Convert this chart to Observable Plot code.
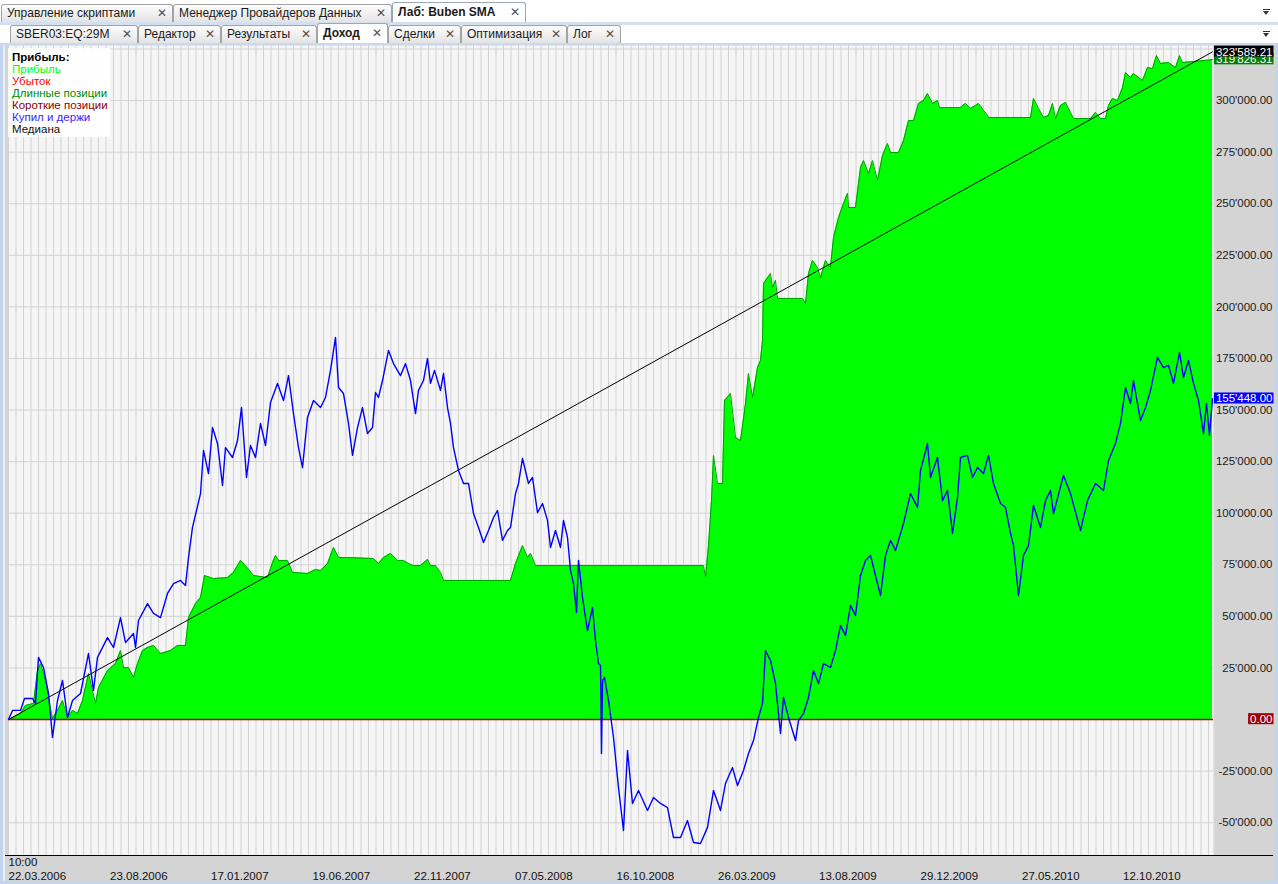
<!DOCTYPE html>
<html><head><meta charset="utf-8">
<script src="https://cdn.jsdelivr.net/npm/d3@7"></script>
<script src="https://cdn.jsdelivr.net/npm/@observablehq/plot@0.6"></script>
<style>
html,body{margin:0;padding:0;background:#fff;width:1278px;height:884px;overflow:hidden;font-family:"Liberation Sans",Arial,sans-serif;position:relative;}
.bar{position:absolute;left:0;width:1278px;background:#fff;}
#bar1{top:0;height:22px;border-bottom:3px solid #d3e0f2;}
#bar2{top:25px;height:18px;border-bottom:2px solid #c9d9ef;}
.tab{position:absolute;bottom:0;height:18px;box-sizing:border-box;border:1px solid #a3a3a3;border-bottom:none;border-radius:3px 3px 0 0;background:linear-gradient(#fdfdfd,#e3e3e3);font-size:12px;line-height:17px;color:#1a1a1a;padding-left:5px;white-space:nowrap;}
.tab .x{position:absolute;right:5px;top:0;font-size:12px;color:#505050;font-family:"DejaVu Sans",sans-serif;font-weight:bold;}
.tab.active{background:#fff;font-weight:bold;height:20px;line-height:19px;border-color:#9aa7b8;}
.dd{position:absolute;left:1263px;width:7px;height:1px;background:#333;}
.dd::after{content:"";position:absolute;left:0;top:2px;border-left:3.5px solid transparent;border-right:3.5px solid transparent;border-top:4px solid #333;}
#chart{position:absolute;left:0;top:45px;}
#leftedge{position:absolute;left:0;top:45px;width:3px;height:839px;background:#c3d5ee;}
#leftedge2{position:absolute;left:3px;top:45px;width:2px;height:839px;background:#e9eff8;}
#rightedge{position:absolute;left:1275px;top:45px;width:3px;height:839px;background:#c3d5ee;}
#bottomedge{position:absolute;left:0;top:881px;width:1278px;height:3px;background:#c3d5ee;}
#baseline{position:absolute;left:5px;top:855px;width:1268px;height:1px;background:#000;}
#legend{position:absolute;left:8px;top:48px;width:102px;height:89px;background:rgba(255,255,255,0.92);font-size:11.5px;line-height:12px;padding:3px 0 0 4px;box-sizing:border-box;}
</style></head>
<body>
<div id="bar1" class="bar">
 <div class="tab" style="left:1px;width:172px">Управление скриптами<span class="x">✕</span></div>
 <div class="tab" style="left:173px;width:219px">Менеджер Провайдеров Данных<span class="x">✕</span></div>
 <div class="tab active" style="left:392px;width:134px">Лаб: Buben SMA<span class="x">✕</span></div>
 <div class="dd" style="top:9px"></div>
</div>
<div id="bar2" class="bar">
 <div class="tab" style="left:10px;width:128px">SBER03:EQ:29M<span class="x">✕</span></div>
 <div class="tab" style="left:138px;width:83px">Редактор<span class="x">✕</span></div>
 <div class="tab" style="left:221px;width:96px">Результаты<span class="x">✕</span></div>
 <div class="tab active" style="left:317px;width:71px">Доход<span class="x">✕</span></div>
 <div class="tab" style="left:388px;width:73px">Сделки<span class="x">✕</span></div>
 <div class="tab" style="left:461px;width:106px">Оптимизация<span class="x">✕</span></div>
 <div class="tab" style="left:567px;width:54px">Лог<span class="x">✕</span></div>
 <div class="dd" style="top:6px"></div>
</div>
<div id="chart"></div>
<div id="leftedge"></div><div id="leftedge2"></div><div id="rightedge"></div><div id="bottomedge"></div>
<div id="baseline"></div>
<div id="legend"></div>
<script>
// ---- data (bar index, value in thousands) ----
const buyHold = [[0,0],[8,4.4],[24,4.4],[32,10.2],[48,10.2],[54,7.8],[60,30.1],[70,25.2],[80,12.6],[88,-8.7],[98,9.2],[108,18.9],[118,1.0],[128,9.2],[144,12.6],[160,32.0],[170,14.1],[178,30.1],[198,39.7],[210,34.9],[224,49.4],[234,37.3],[250,41.7],[254,34.9],[260,48.0],[278,56.2],[290,51.4],[304,49.4],[318,61.1],[330,65.9],[344,67.4],[354,64.9],[360,78.5],[368,93.1],[384,109.5],[390,130.4],[400,119.2],[408,141.5],[418,133.8],[428,113.4],[434,131.8],[448,127.0],[458,135.2],[466,151.2],[476,117.3],[484,132.8],[494,127.0],[504,143.5],[514,132.8],[524,153.6],[538,162.9],[550,154.6],[560,166.7],[570,148.3],[580,131.8],[588,122.1],[598,146.4],[610,154.6],[624,151.2],[634,156.1],[644,169.2],[654,185.2],[660,160.9],[670,158.0],[680,143.5],[688,128.0],[698,141.5],[708,151.2],[718,138.6],[728,141.5],[734,158.5],[740,156.1],[748,164.3],[760,178.9],[770,172.5],[784,166.7],[794,172.5],[804,164.3],[814,148.3],[820,159.5],[830,164.3],[838,175.0],[844,162.9],[852,169.2],[864,159.5],[870,167.7],[878,151.2],[884,143.5],[890,131.8],[900,120.7],[910,114.4],[920,114.4],[930,99.8],[940,93.1],[950,85.8],[960,91.6],[970,97.9],[978,101.3],[988,86.8],[998,91.6],[1004,93.1],[1014,109.5],[1020,114.4],[1028,126.5],[1040,114.4],[1048,117.3],[1058,100.3],[1068,104.7],[1078,96.5],[1084,83.4],[1094,91.6],[1104,83.4],[1110,96.5],[1118,88.2],[1124,72.2],[1130,65.9],[1136,51.9],[1140,77.1],[1148,59.1],[1158,43.1],[1168,54.3],[1174,38.3],[1180,27.1],[1184,26.2],[1186,-16.5],[1188,18.9],[1192,20.4],[1200,9.2],[1210,-8.7],[1220,-33.0],[1230,-53.8],[1238,-15.0],[1248,-40.7],[1260,-34.4],[1278,-44.1],[1290,-37.8],[1304,-40.7],[1318,-42.7],[1330,-57.2],[1344,-57.2],[1358,-49.0],[1370,-59.6],[1384,-60.1],[1398,-52.3],[1410,-34.4],[1424,-44.1],[1434,-31.0],[1448,-23.3],[1458,-32.0],[1470,-24.7],[1480,-16.5],[1490,-10.2],[1500,1.0],[1508,7.8],[1514,33.4],[1524,28.6],[1534,17.4],[1544,-6.8],[1550,10.7],[1560,1.0],[1574,-10.2],[1580,-0.5],[1590,2.9],[1600,10.7],[1610,23.7],[1620,17.4],[1630,27.1],[1644,25.2],[1654,33.4],[1664,45.6],[1674,40.7],[1684,55.3],[1694,50.4],[1704,69.8],[1714,77.1],[1724,79.5],[1734,69.8],[1744,60.1],[1754,79.5],[1764,86.8],[1774,81.9],[1790,95.0],[1804,109.5],[1818,102.8],[1824,120.7],[1838,133.8],[1844,117.3],[1858,127.0],[1868,106.1],[1878,111.0],[1888,90.2],[1898,107.6],[1904,127.0],[1918,128.0],[1928,117.3],[1938,122.1],[1950,119.2],[1960,128.0],[1970,114.4],[1984,104.7],[1994,102.8],[2004,90.2],[2010,84.3],[2020,60.1],[2030,79.5],[2040,84.3],[2050,103.7],[2064,93.1],[2074,106.1],[2084,111.0],[2090,99.8],[2110,118.3],[2124,109.5],[2144,91.6],[2158,106.1],[2174,114.4],[2190,111.0],[2200,125.5],[2214,133.8],[2224,143.5],[2234,160.9],[2244,153.2],[2250,164.3],[2264,144.9],[2274,151.2],[2284,159.5],[2298,175.5],[2310,170.6],[2320,171.6],[2330,162.9],[2342,177.9],[2350,165.8],[2360,174.0],[2370,162.9],[2380,154.6],[2390,138.6],[2396,153.2],[2402,137.7],[2408,155.448]];

const equity = [[0,0],[10,1.0],[24,2.9],[34,6.8],[50,7.8],[58,23.7],[64,27.1],[70,22.3],[80,10.7],[88,0.5],[98,4.4],[108,9.2],[118,1.0],[128,4.4],[138,2.9],[148,9.2],[160,22.3],[174,7.8],[180,15.5],[198,23.7],[214,27.1],[224,33.4],[230,25.2],[240,25.2],[250,20.4],[258,27.1],[268,33.4],[278,34.9],[290,35.9],[304,32.0],[324,33.4],[338,35.9],[354,35.9],[360,49.4],[374,56.2],[384,59.1],[392,69.8],[410,68.3],[438,68.8],[450,71.3],[464,77.1],[474,74.6],[490,69.8],[518,68.8],[528,76.1],[534,79.5],[540,77.1],[558,77.1],[568,71.3],[598,70.8],[614,72.7],[624,72.2],[638,75.6],[650,83.4],[660,78.5],[678,78.5],[730,78.0],[740,75.6],[750,78.5],[764,80.5],[778,77.1],[790,77.1],[800,75.6],[810,74.6],[824,74.6],[838,77.6],[844,74.6],[854,74.6],[864,71.3],[870,67.4],[1004,67.4],[1014,75.6],[1028,84.3],[1038,78.5],[1044,80.5],[1054,74.6],[1390,74.6],[1394,68.8],[1400,84.3],[1406,106.1],[1410,128.0],[1418,114.4],[1428,114.4],[1432,154.6],[1444,158.0],[1454,136.7],[1464,135.2],[1474,153.2],[1480,167.7],[1488,156.1],[1498,170.6],[1504,174.0],[1508,183.7],[1510,211.3],[1524,216.2],[1528,209.4],[1534,212.8],[1538,204.1],[1588,204.1],[1594,201.6],[1600,216.2],[1608,222.5],[1618,219.1],[1624,214.2],[1634,222.5],[1644,219.1],[1650,233.6],[1660,243.3],[1670,250.1],[1678,255.0],[1680,248.2],[1694,248.2],[1704,267.6],[1710,270.9],[1720,264.6],[1728,270.9],[1738,261.3],[1748,273.4],[1758,279.2],[1764,274.8],[1780,274.8],[1790,280.6],[1800,290.3],[1810,290.3],[1820,298.6],[1830,300.0],[1838,303.4],[1848,298.6],[1858,300.0],[1862,296.6],[1904,296.6],[1914,298.6],[1924,296.2],[1934,297.6],[1940,298.6],[1950,295.2],[1958,292.8],[1960,291.8],[2044,291.8],[2050,301.0],[2060,296.2],[2070,291.8],[2080,292.8],[2088,298.6],[2094,291.3],[2104,297.6],[2114,299.1],[2124,294.2],[2130,291.3],[2164,291.3],[2174,294.2],[2184,291.3],[2194,291.3],[2200,297.6],[2208,301.0],[2218,300.0],[2228,306.3],[2234,313.6],[2244,311.2],[2250,313.1],[2268,309.7],[2278,316.0],[2288,315.5],[2296,321.8],[2304,318.0],[2320,318.4],[2334,316.0],[2342,321.8],[2348,318.4],[2408,319.82631]];

const median = [[0,0],[2408,323.58921]];

const dateLabels = ["22.03.2006","23.08.2006","17.01.2007","19.06.2007","22.11.2007","07.05.2008","16.10.2008","26.03.2009","13.08.2009","29.12.2009","27.05.2010","12.10.2010"];
const dateBars = [0,203,405,608,811,1013,1216,1419,1621,1824,2027,2229];
const timeLabel = "10:00";
const yTickValues = [-50000,-25000,25000,50000,75000,100000,125000,150000,175000,200000,225000,250000,275000,300000];
const lastLabels = [
  {value: 319826.31, color: "#008000"},
  {value: 323589.21, color: "#000000"},
  {value: 155448.00, color: "#0000ff"},
  {value: 0, color: "#a00000"}
];
const legendTitle = "Прибыль:";
const legendItems = ["Прибыль","Убыток","Длинные позиции","Короткие позиции","Купил и держи","Медиана"];
const legendColors = ["#00ff00","#ff0000","#008c00","#8c0000","#3a1eff","#111111"];

// ---- build ----
const toRows = arr => arr.map(([bar, k]) => ({bar, value: k * 1000}));
const eqRows = toRows(equity), bhRows = toRows(buyHold), medRows = toRows(median);
const fmt = v => d3.format(",.2f")(v).replace(/,/g, "'").replace("\u2212", "-");

const chart = Plot.plot({
  width: 1275, height: 836,
  marginLeft: 8, marginRight: 62, marginTop: 0, marginBottom: 26,
  x: {domain: [0, 2410], axis: null},
  y: {domain: [-65919, 326688], axis: null},
  style: {background: "#d4d4d4", fontFamily: "'Liberation Sans', Arial, sans-serif", fontSize: "11.5px", color: "#111"},
  marks: [
    Plot.frame({fill: "#f5f5f5", stroke: null}),
    Plot.ruleX(d3.range(0, 2411, 15), {stroke: "#d3d3d3", strokeOpacity: 1}),
    Plot.ruleY(d3.range(-50000, 325001, 25000), {stroke: "#d3d3d3", strokeOpacity: 1}),
    Plot.areaY(eqRows, {x: "bar", y: "value", fill: "#00ff00", fillOpacity: 1}),
    Plot.lineY(eqRows, {x: "bar", y: "value", stroke: "#00a000", strokeWidth: 1}),
    Plot.ruleY([0], {stroke: "#c00000", strokeWidth: 1.5}),
    Plot.line(medRows, {x: "bar", y: "value", stroke: "#000", strokeWidth: 1}),
    Plot.lineY(bhRows, {x: "bar", y: "value", stroke: "#0000ff", strokeWidth: 1.4}),
    Plot.text(yTickValues, {y: d => d, text: d => fmt(d), frameAnchor: "right", textAnchor: "end", dx: 59, fill: "#1a1a1a"}),
    Plot.text(lastLabels, {y: "value", text: d => fmt(d.value), frameAnchor: "right", textAnchor: "end", dx: 59, fill: "#ffffff"}),
    Plot.text(dateBars, {x: d => d, text: (d, i) => dateLabels[i], frameAnchor: "bottom", textAnchor: "start", dy: 24, fill: "#111"}),
    Plot.text([0], {x: d => d, text: [timeLabel], frameAnchor: "bottom", textAnchor: "start", dy: 10, fill: "#111"})
  ]
});
document.getElementById("chart").append(chart);

// colored boxes behind last-value labels
const boxColor = new Map(lastLabels.map(d => [fmt(d.value), d.color]));
d3.select(chart).selectAll("text").each(function() {
  const c = boxColor.get(this.textContent);
  if (!c) return;
  const b = this.getBBox();
  const r = document.createElementNS("http://www.w3.org/2000/svg", "rect");
  r.setAttribute("x", b.x - 2);
  r.setAttribute("y", b.y);
  r.setAttribute("width", b.width + 3);
  r.setAttribute("height", b.height - 1);
  r.setAttribute("fill", c);
  const t = this.getAttribute("transform");
  if (t) r.setAttribute("transform", t);
  this.parentNode.insertBefore(r, this);
});

// legend
const lg = d3.select("#legend");
lg.append("div").style("font-weight", "bold").style("color", "#000").text(legendTitle);
legendItems.forEach((s, i) => lg.append("div").style("color", legendColors[i]).text(s));
</script>
</body></html>
